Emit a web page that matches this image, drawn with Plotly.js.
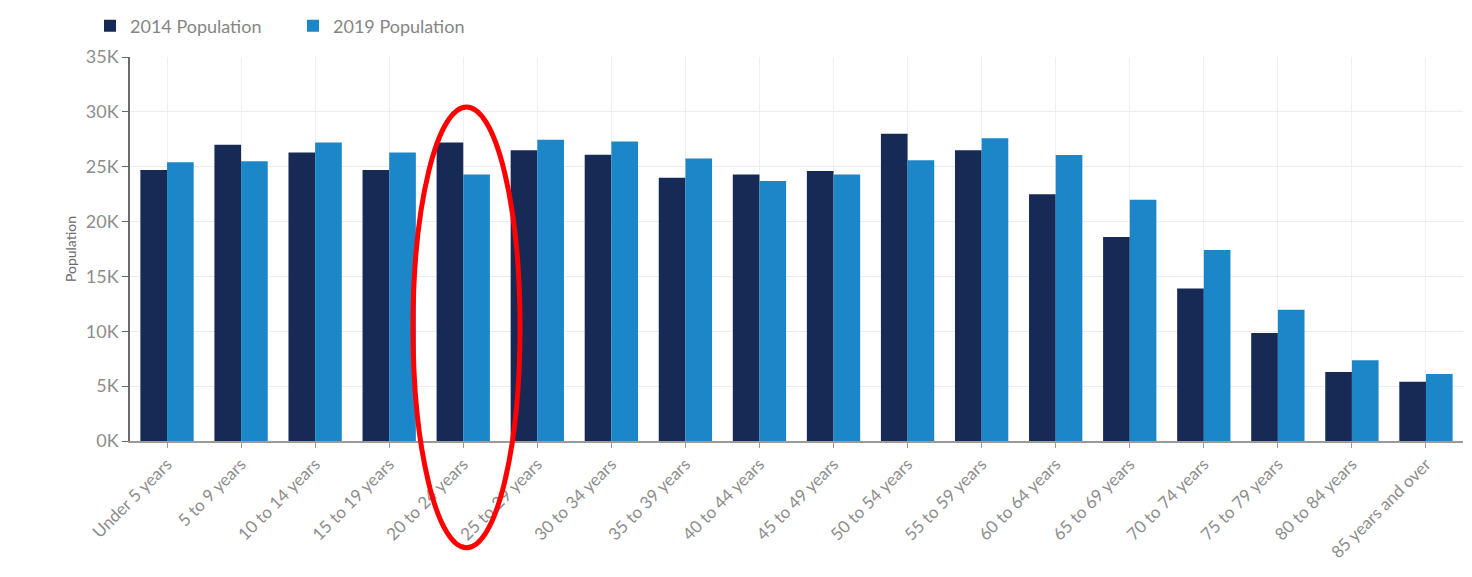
<!DOCTYPE html>
<html>
<head>
<meta charset="utf-8">
<script src="https://cdn.plot.ly/plotly-3.0.1.min.js"></script>
<style>
  html, body { margin: 0; padding: 0; background: #ffffff; }
  #chart { width: 1472px; height: 577px; }
</style>
</head>
<body>
<div id="chart"></div>
<script>
const categories = [
  'Under 5 years', '5 to 9 years', '10 to 14 years', '15 to 19 years',
  '20 to 24 years', '25 to 29 years', '30 to 34 years', '35 to 39 years',
  '40 to 44 years', '45 to 49 years', '50 to 54 years', '55 to 59 years',
  '60 to 64 years', '65 to 69 years', '70 to 74 years', '75 to 79 years',
  '80 to 84 years', '85 years and over'
];
const pop2014 = [24700, 27000, 26300, 24700, 27200, 26500, 26100, 24000, 24300, 24600, 28000, 26500, 22500, 18600, 13900, 9850, 6300, 5400];
const pop2019 = [25400, 25500, 27200, 26300, 24300, 27450, 27300, 25750, 23700, 24300, 25600, 27600, 26060, 22000, 17400, 11970, 7360, 6100];
const seriesNames = ['2014 Population', '2019 Population'];
const yTickVals = [0, 5000, 10000, 15000, 20000, 25000, 30000, 35000];
const yTickLabels = ['0K', '5K', '10K', '15K', '20K', '25K', '30K', '35K'];

const traces = [
  { type: 'bar', name: seriesNames[0], x: categories, y: pop2014,
    marker: { color: '#172a56' }, hoverinfo: 'x+y+name' },
  { type: 'bar', name: seriesNames[1], x: categories, y: pop2019,
    marker: { color: '#1b87c8' }, hoverinfo: 'x+y+name' }
];

const layout = {
  width: 1472, height: 577,
  paper_bgcolor: '#ffffff', plot_bgcolor: '#ffffff',
  font: { family: 'Lato, "Open Sans", sans-serif', color: '#858585', size: 17 },
  margin: { l: 130, r: 9, t: 56, b: 136 },
  barmode: 'group', bargap: 0.28, bargroupgap: 0,
  showlegend: true,
  legend: {
    orientation: 'h', x: -0.030, xanchor: 'left', y: 1.078, yanchor: 'middle',
    font: { size: 18, color: '#858585' }, entrywidth: 158, itemwidth: 30,
    bgcolor: 'rgba(0,0,0,0)'
  },
  xaxis: {
    type: 'category', tickangle: -45,
    showline: true, linecolor: '#9a9a9a', linewidth: 1.5,
    ticks: 'outside', ticklen: 5, tickcolor: '#9a9a9a',
    showgrid: true, gridcolor: '#efefef',
    tickfont: { size: 17, color: '#8d8d8d' }
  },
  yaxis: {
    range: [0, 35000], tickvals: yTickVals, ticktext: yTickLabels,
    showline: true, linecolor: '#6a6a6a', linewidth: 1.5,
    ticks: 'outside', ticklen: 6, tickcolor: '#6a6a6a',
    showgrid: true, gridcolor: '#ececec', zeroline: false,
    tickfont: { size: 18, color: '#8d8d8d' },
    title: { text: 'Population', font: { size: 14, color: '#6a6a6a' }, standoff: 6 }
  },
  shapes: [
    { type: 'circle', xref: 'paper', yref: 'paper',
      x0: 0.2123, x1: 0.2926, y0: -0.278, y1: 0.870,
      line: { color: '#ff0000', width: 5 }, fillcolor: 'rgba(0,0,0,0)' }
  ]
};

Plotly.newPlot('chart', traces, layout, { displayModeBar: false, responsive: false });
</script>
</body>
</html>
